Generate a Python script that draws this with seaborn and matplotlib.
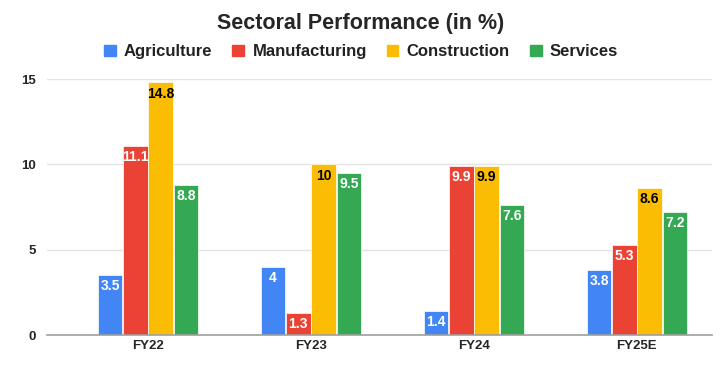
import pandas as pd
import matplotlib.pyplot as plt
import seaborn as sns

years = ['FY22', 'FY23', 'FY24', 'FY25E']
sectors = ['Agriculture', 'Manufacturing', 'Construction', 'Services']
agriculture = [3.5, 4, 1.4, 3.8]
manufacturing = [11.1, 1.3, 9.9, 5.3]
construction = [14.8, 10, 9.9, 8.6]
services = [8.8, 9.5, 7.6, 7.2]
colors = ['#4285F4', '#EA4335', '#FBBC04', '#34A853']
label_colors = ['white', 'white', 'black', 'white']

# long format for seaborn
rows = []
for name, vals in zip(sectors, [agriculture, manufacturing, construction, services]):
    for y, v in zip(years, vals):
        rows.append({'Year': y, 'Sector': name, 'Value': v})
df = pd.DataFrame(rows)

sns.set_style('white')
plt.rcParams['font.family'] = ['Liberation Sans', 'DejaVu Sans']

fig = plt.figure(figsize=(7.22, 3.71), dpi=100)
ax = fig.add_axes([0.065, 0.097, 0.921, 0.69])

sns.barplot(data=df, x='Year', y='Value', hue='Sector', hue_order=sectors,
            palette=colors, saturation=1, width=0.62, gap=0.03, ax=ax, legend=False,
            edgecolor='white', linewidth=0.5)

# value labels inside bars
for cont, tc in zip(ax.containers, label_colors):
    for bar in cont:
        h = bar.get_height()
        ax.annotate(f'{h:g}', (bar.get_x() + bar.get_width() / 2, h),
                    xytext=(0, -3), textcoords='offset points',
                    ha='center', va='top', fontsize=10, fontweight='bold',
                    color=tc)

ax.set_ylim(0, 15)
ax.set_xlim(-0.62, 3.46)
ax.set_yticks([0, 5, 10, 15])
ax.yaxis.grid(True, color='#e3e3e3', linewidth=1)
ax.set_axisbelow(True)
for s in ['top', 'right', 'left']:
    ax.spines[s].set_visible(False)
ax.spines['bottom'].set_color('#9e9e9e')
ax.spines['bottom'].set_linewidth(1.2)
ax.tick_params(axis='both', length=0, labelsize=9.5)
for t in ax.get_xticklabels() + ax.get_yticklabels():
    t.set_fontweight('bold')
ax.tick_params(axis='y', pad=8)
ax.set_xlabel('')
ax.set_ylabel('')

fig.suptitle('Sectoral Performance (in %)', y=0.965, fontsize=15.5, fontweight='bold')

handles = [plt.Rectangle((0, 0), 1, 1, color=c) for c in colors]
leg = fig.legend(handles, sectors, loc='center', bbox_to_anchor=(0.5, 0.86), ncol=4,
                 frameon=False, handlelength=0.7, handleheight=0.7, handletextpad=0.5,
                 columnspacing=1.2, prop={'size': 12, 'weight': 'bold'})
for t in leg.get_texts():
    t.set_color('#222222')

fig.savefig('out.png', dpi=100)
